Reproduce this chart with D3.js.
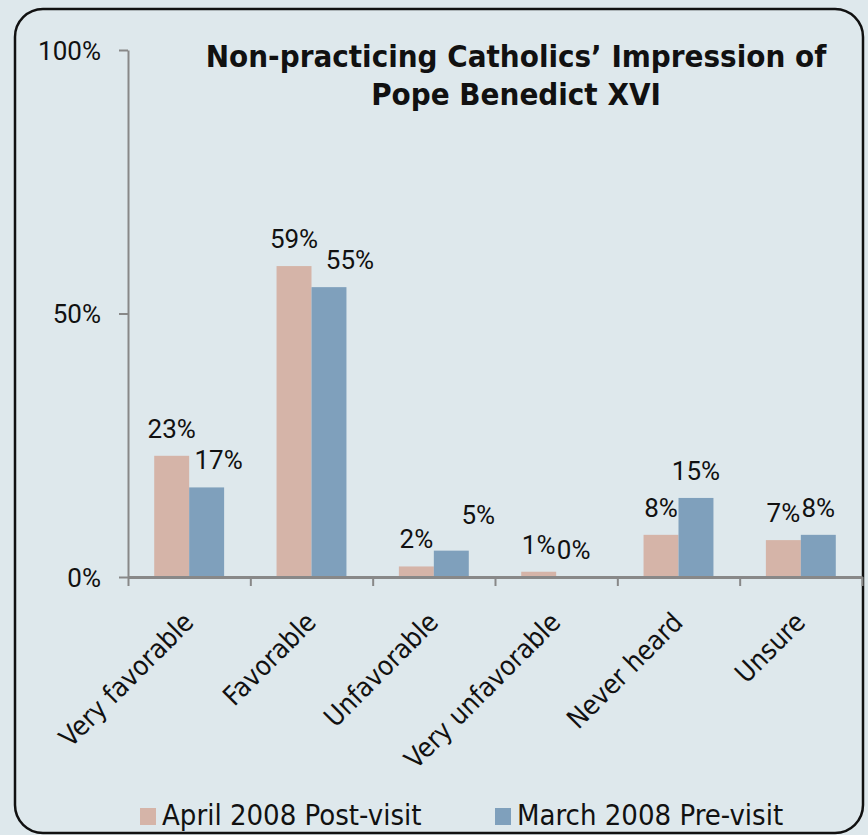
<!DOCTYPE html>
<html>
<head>
<meta charset="utf-8">
<script src="https://cdn.jsdelivr.net/npm/d3@7"></script>
<style>
  html, body { margin: 0; padding: 0; background: #dee8ec; }
  svg { display: block; }
</style>
</head>
<body>
<svg id="chart" width="868" height="835"></svg>
<script>
const categories = ["Very favorable", "Favorable", "Unfavorable", "Very unfavorable", "Never heard", "Unsure"];
const seriesNames = ["April 2008 Post-visit", "March 2008 Pre-visit"];
const april2008 = [23, 59, 2, 1, 8, 7];
const march2008 = [17, 55, 5, 0, 15, 8];
const yTickValues = [0, 50, 100];
const titleLines = ["Non-practicing Catholics\u2019 Impression of", "Pope Benedict XVI"];

const colors = ["#d5b4a8", "#7fa0bc"];
const numFont = "Roboto, 'DejaVu Sans Condensed', sans-serif";
const textFont = "'DejaVu Sans Condensed', 'DejaVu Sans', sans-serif";
const axisColor = "#888888";

// label nudges (layout only) keyed by "series|category index"
const labelNudge = { "1|0": [12, 0], "1|1": [21, 0], "1|2": [27, -9] };

const svg = d3.select("#chart");

// frame
svg.append("rect")
  .attr("x", 15).attr("y", 9).attr("width", 848).attr("height", 824)
  .attr("rx", 28).attr("ry", 28)
  .attr("fill", "#dee8ec").attr("stroke", "#111").attr("stroke-width", 2.5);

const plotLeft = 128, plotRight = 862, plotTop = 50, plotBottom = 577;

const x0 = d3.scaleBand().domain(categories).range([plotLeft, plotRight]).paddingInner(0).paddingOuter(0);
const x1 = d3.scaleBand().domain(seriesNames).range([0, x0.bandwidth()]).paddingInner(0).paddingOuter(0.75);
const y = d3.scaleLinear().domain([0, 100]).range([plotBottom, plotTop]);
const xb = d3.scaleLinear().domain([0, categories.length]).range([plotLeft, plotRight]);

// y axis
const yAxis = svg.append("g").attr("transform", `translate(${plotLeft},0)`)
  .call(d3.axisLeft(y).tickValues(yTickValues).tickFormat(d => d + "%").tickSize(9).tickSizeOuter(0).tickPadding(18));
yAxis.select(".domain").attr("stroke", axisColor).attr("stroke-width", 2);
yAxis.selectAll(".tick line").attr("stroke", axisColor).attr("stroke-width", 2);
yAxis.selectAll(".tick text").attr("font-family", numFont).attr("font-size", 26).attr("fill", "#111").attr("dy", "0.36em");

// series data
const seriesValues = [april2008, march2008];

// bars
const groups = svg.append("g").selectAll("g").data(seriesNames).join("g").attr("fill", (d, i) => colors[i]);
groups.selectAll("rect")
  .data((s, si) => categories.map((c, ci) => ({ s, si, c, ci, v: seriesValues[si][ci] })))
  .join("rect")
  .attr("x", d => x0(d.c) + x1(d.s))
  .attr("width", x1.bandwidth())
  .attr("y", d => y(d.v))
  .attr("height", d => y(0) - y(d.v));

// x axis (boundary ticks)
const xAxis = svg.append("g").attr("transform", `translate(0,${plotBottom})`)
  .call(d3.axisBottom(xb).tickValues(d3.range(categories.length + 1)).tickFormat("").tickSize(9).tickSizeOuter(0));
xAxis.select(".domain").attr("stroke", axisColor).attr("stroke-width", 3);
xAxis.selectAll(".tick line").attr("stroke", axisColor).attr("stroke-width", 2);

// data labels
const lbl = svg.append("g").attr("font-family", numFont).attr("font-size", 26).attr("fill", "#111").attr("text-anchor", "middle");
seriesNames.forEach((s, si) => {
  categories.forEach((c, ci) => {
    const v = seriesValues[si][ci];
    const n = labelNudge[si + "|" + ci] || [0, 0];
    lbl.append("text")
      .attr("x", x0(c) + x1(s) + x1.bandwidth() / 2 + n[0])
      .attr("y", y(v) - 18 + n[1])
      .text(v + "%");
  });
});

// category labels
svg.append("g").selectAll("text").data(categories).join("text")
  .attr("transform", d => `translate(${x0(d) + x0.bandwidth() / 2 + 6},${624}) rotate(-45)`)
  .attr("text-anchor", "end")
  .attr("font-family", textFont).attr("font-size", 27).attr("fill", "#111")
  .text(d => d);

// title
svg.append("g").selectAll("text").data(titleLines).join("text")
  .attr("x", 516).attr("y", (d, i) => 67 + i * 38)
  .attr("text-anchor", "middle")
  .attr("font-family", textFont).attr("font-weight", "bold").attr("font-size", 31).attr("fill", "#111")
  .text(d => d);

// legend
const legendX = [140, 495];
const leg = svg.append("g").selectAll("g").data(seriesNames).join("g")
  .attr("transform", (d, i) => `translate(${legendX[i]},825)`);
leg.append("rect").attr("x", 0).attr("y", -17).attr("width", 16).attr("height", 17).attr("fill", (d, i) => colors[i]);
leg.append("text").attr("x", 22).attr("y", 0)
  .attr("font-family", textFont).attr("font-size", 29).attr("fill", "#111")
  .text(d => d);
</script>
</body>
</html>
